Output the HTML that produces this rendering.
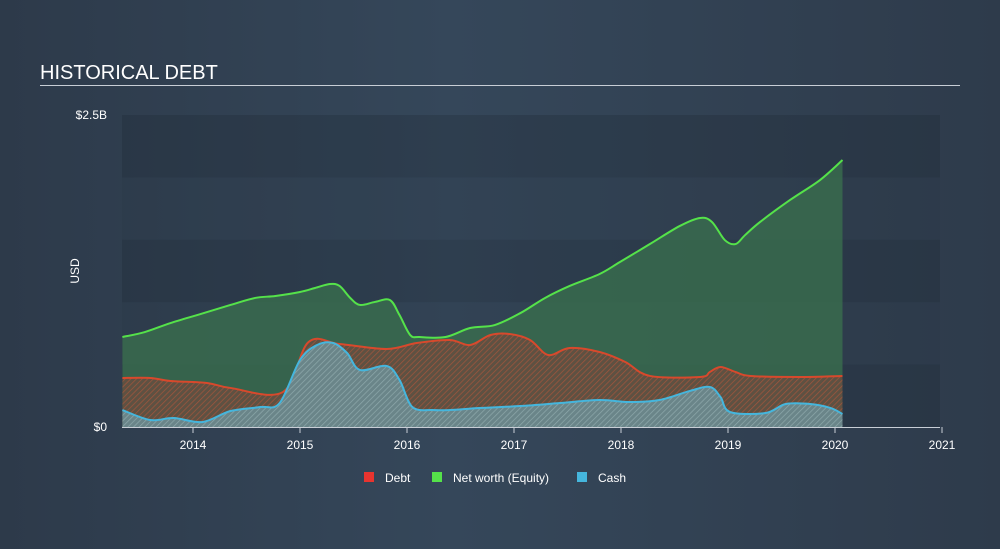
<!DOCTYPE html>
<html><head><meta charset="utf-8"><style>
body{margin:0;width:1000px;height:544px;overflow:hidden;background:linear-gradient(90deg,#2d3a4a,#35475a 45%,#2e3b4b);font-family:"Liberation Sans",sans-serif;}
</style></head><body>
<svg id="chart" width="1000" height="544" xmlns="http://www.w3.org/2000/svg">
<defs>
<pattern id="hatchR" width="4" height="4" patternUnits="userSpaceOnUse" patternTransform="rotate(45)"><rect width="4" height="4" fill="#5e5142"/><line x1="0" y1="0" x2="0" y2="4" stroke="#a4553c" stroke-width="1.4"/></pattern>
<pattern id="hatchB" width="4" height="4" patternUnits="userSpaceOnUse" patternTransform="rotate(45)"><rect width="4" height="4" fill="#6a8589"/><line x1="0" y1="0" x2="0" y2="4" stroke="#8ea9ab" stroke-width="1.4"/></pattern>
</defs>
<text x="40" y="79" fill="#fff" font-size="20">HISTORICAL DEBT</text>
<rect x="40" y="85" width="920" height="1" fill="#c8ced6"/>
<g id="bands"></g>
<g id="areas"></g>
<g id="axis"></g>
<text transform="translate(79,271) rotate(-90)" text-anchor="middle" fill="#fff" font-size="12">USD</text>
<g font-size="12" fill="#fff">
<rect x="364" y="472" width="10" height="10" fill="#e8342f"/><text x="385" y="482">Debt</text>
<rect x="432" y="472" width="10" height="10" fill="#55e24a"/><text x="453" y="482">Net worth (Equity)</text>
<rect x="577" y="472" width="10" height="10" fill="#45b6dd"/><text x="598" y="482">Cash</text>
</g>
</svg>
<script>
const equityYears=[2013.34,2013.55,2013.79,2014.07,2014.35,2014.58,2014.77,2015.0,2015.14,2015.28,2015.37,2015.47,2015.56,2015.70,2015.84,2015.93,2016.03,2016.12,2016.36,2016.59,2016.82,2017.06,2017.29,2017.52,2017.80,2017.99,2018.27,2018.55,2018.74,2018.85,2018.97,2019.07,2019.16,2019.30,2019.58,2019.86,2020.07];
const equityValues=[721,761,833,905,978,1034,1050,1082,1114,1146,1130,1034,978,1002,1018,897,737,721,721,793,817,913,1034,1130,1226,1322,1466,1611,1675,1643,1498,1466,1538,1643,1819,1979,2139];
const debtYears=[2013.34,2013.60,2013.79,2014.13,2014.35,2014.84,2015.08,2015.37,2015.81,2016.09,2016.40,2016.59,2016.78,2016.96,2017.15,2017.32,2017.52,2017.80,2018.04,2018.27,2018.74,2018.83,2018.93,2019.07,2019.21,2019.67,2020.07];
const debtValues=[393,393,369,353,313,280,681,665,625,673,697,657,737,745,697,577,633,601,521,409,401,441,481,441,409,401,409];
const cashYears=[2013.34,2013.60,2013.82,2014.09,2014.35,2014.63,2014.81,2015.0,2015.16,2015.31,2015.44,2015.56,2015.81,2015.93,2016.05,2016.24,2016.40,2016.68,2017.06,2017.43,2017.80,2018.08,2018.36,2018.64,2018.83,2018.93,2019.02,2019.35,2019.54,2019.77,2019.96,2020.07];
const cashValues=[136,56,72,40,128,160,192,537,657,673,593,457,489,377,160,136,136,152,168,192,216,200,216,288,321,240,120,112,184,184,152,104];
const yTicks=[0,2500];const yTickLabels=["$0","$2.5B"];
const xTicks=[2014,2015,2016,2017,2018,2019,2020,2021];
const NS="http://www.w3.org/2000/svg";
const X0=122,X1=940,Y0=427,Y1=115;
const xs=y=>193+(y-2014)*107;
const ys=v=>Y0-(v/2500)*(Y0-Y1);
function mk(t,a,p){const e=document.createElementNS(NS,t);for(const k in a)e.setAttribute(k,a[k]);p.appendChild(e);return e;}
function curve(px,py){let d=`M${px[0]},${py[0]}`;for(let i=0;i<px.length-1;i++){const x0=px[Math.max(i-1,0)],y0=py[Math.max(i-1,0)],x1=px[i],y1=py[i],x2=px[i+1],y2=py[i+1],x3=px[Math.min(i+2,px.length-1)],y3=py[Math.min(i+2,px.length-1)];d+=` C${x1+(x2-x0)/6},${y1+(y2-y0)/6} ${x2-(x3-x1)/6},${y2-(y3-y1)/6} ${x2},${y2}`;}return d;}
const bands=document.getElementById('bands');
for(let i=0;i<5;i++){const b=mk('rect',{x:X0,y:Y1+i*62.4,width:X1-X0,height:62.4,fill:i%2==0?'rgba(30,40,52,0.28)':'rgba(40,54,70,0.22)'},bands);}
const areas=document.getElementById('areas');
function series(yrs,vals,fill,stroke,name){const px=yrs.map(xs),py=vals.map(ys);const c=curve(px,py);
const a=mk('path',{d:c+` L${px[px.length-1]},${Y0} L${px[0]},${Y0} Z`,fill:fill},areas);
const l=mk('path',{d:c,fill:'none',stroke:stroke,'stroke-width':2},areas);}
series(equityYears,equityValues,'rgba(58,110,78,0.8)','#55e24a','equity');
series(debtYears,debtValues,'url(#hatchR)','#d8492c','debt');
series(cashYears,cashValues,'url(#hatchB)','#45b6dd','cash');
const ax=document.getElementById('axis');
const base=mk('line',{x1:X0,x2:X1,y1:Y0+0.5,y2:Y0+0.5,stroke:'#c8ced6'},ax);
xTicks.forEach(t=>{const tk=mk('line',{x1:xs(t),x2:xs(t),y1:Y0,y2:Y0+6,stroke:'#c8ced6'},ax);
const tx=mk('text',{x:xs(t),y:Y0+22,fill:'#fff','font-size':12,'text-anchor':'middle'},ax);tx.textContent=t;});
yTicks.forEach((v,i)=>{const tx=mk('text',{x:107,y:ys(v)+4,fill:'#fff','font-size':12,'text-anchor':'end'},ax);tx.textContent=yTickLabels[i];});
</script>
</body></html>
